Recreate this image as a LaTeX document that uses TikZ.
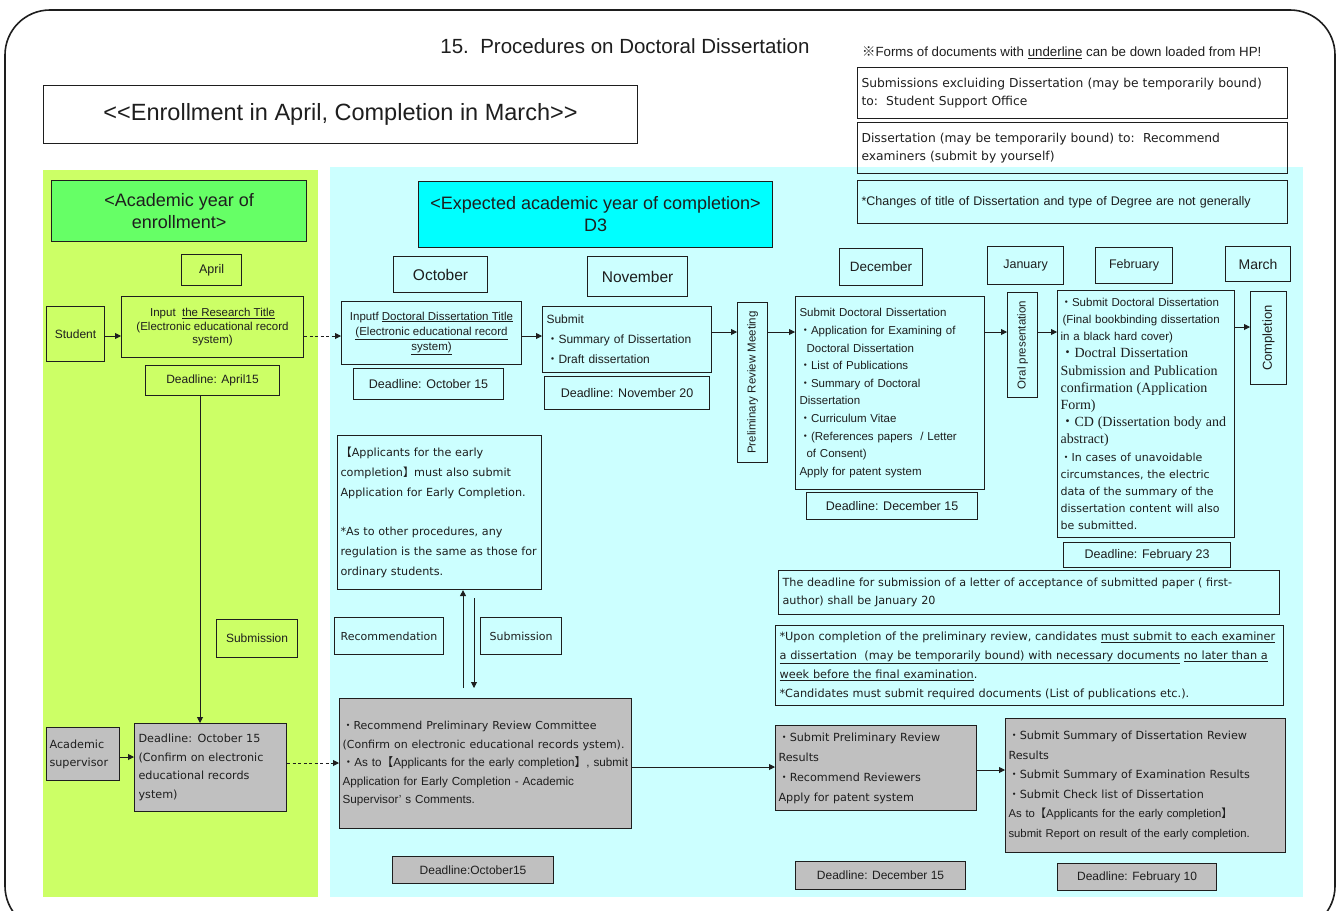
\documentclass[tikz,border=0pt]{standalone}
\usepackage{graphicx}
\usepackage{fontspec}
\setmainfont{Liberation Sans}
\newfontfamily\cjk{Noto Sans CJK JP}
\newfontfamily\wfont{DejaVu Sans}
\newfontfamily\serfont{Liberation Serif}
\usetikzlibrary{arrows.meta}
\newcommand{\fz}[2]{\fontsize{#1}{#2}\selectfont}
\newcommand{\lbk}{{\cjk 【}}
\newcommand{\rbk}{{\cjk 】}}
\newcommand{\dt}{{\cjk ・}}
\definecolor{lgreen}{RGB}{204,255,102}
\definecolor{lcyan}{RGB}{204,255,255}
\definecolor{hgreen}{RGB}{102,255,102}
\definecolor{hcyan}{RGB}{0,255,255}
\definecolor{gfill}{RGB}{192,192,192}
\definecolor{ink}{RGB}{30,30,30}
\begin{document}
\begin{tikzpicture}[x=1pt,y=-1pt,
  box/.style={draw=ink,line width=1.1pt,inner sep=2pt,text=ink},
  gbox/.style={box,fill=gfill},
  sz/.style 2 args={minimum width=#1pt,minimum height=#2pt},
  nw/.style={anchor=north west},
  arr/.style={draw=ink,line width=0.9pt,-{Triangle[length=6pt,width=6pt]}},
  darr/.style={arr,dash pattern=on 3pt off 2.5pt}]
\useasboundingbox (0,0) rectangle (1340,910);
\fill[white] (0,0) rectangle (1340,910);
\begin{scope}
\clip (0,0) rectangle (1340,910);
\draw[ink,line width=1.6pt,rounded corners=45pt] (5,10) rectangle (1335,931);
\end{scope}
% panels
\fill[lgreen] (43,170) rectangle (318,897);
\fill[lcyan] (330,167) rectangle (1303,897);
% title
\node[font=\fz{20.5}{24},text=ink] (title) at (625,46) {15.\ \ Procedures on Doctoral Dissertation};
\node[box,nw,fill=white,sz={594}{58},font=\fz{23.5}{27}] (enroll) at (43,85) {<{}<Enrollment in April, Completion in March>{}>};
% top notes
\node[anchor=west,inner sep=0pt,font=\fz{13.3}{15},text=ink] (hp) at (862,53) {{\cjk ※}Forms of documents with \underline{underline} can be down loaded from HP!};
\node[box,nw,sz={430}{51},text width=422pt,align=left,inner xsep=4pt,font={\wfont\fz{12.3}{18}}] (n1) at (857,67) {Submissions excluiding Dissertation (may be temporarily bound)\\to:\ \ Student Support Office};
\node[box,nw,sz={430}{51},text width=422pt,align=left,inner xsep=4pt,font={\wfont\fz{12.3}{18}}] (n2) at (857,122) {Dissertation (may be temporarily bound) to:\ \ Recommend\\examiners (submit by yourself)};
\node[box,nw,sz={430}{43},text width=422pt,align=left,inner xsep=4pt,font=\fz{12.5}{14}] (n3) at (857,180) {*Changes of title of Dissertation and type of Degree are not generally};
% headers
\node[box,nw,fill=hgreen,sz={255}{61},align=center,font=\fz{18}{22}] (acad) at (51,180) {<Academic year of\\enrollment>};
\node[box,nw,fill=hcyan,sz={354}{66},align=center,font=\fz{18}{22}] (exp) at (418,181) {<Expected academic year of completion>\\D3};
% months
\node[box,nw,sz={60}{31},font=\fz{12.5}{15}] (apr) at (181,254) {April};
\node[box,nw,sz={94}{36},font=\fz{15.5}{18}] (oct) at (393,256) {October};
\node[box,nw,sz={100}{40},font=\fz{15.5}{18}] (nov) at (587,256) {November};
\node[box,nw,sz={83}{37},font=\fz{13.5}{16}] (decm) at (839,248) {December};
\node[box,nw,sz={76}{38},font=\fz{12.5}{15}] (jan) at (987,246) {January};
\node[box,nw,sz={77}{36},font=\fz{12.5}{15}] (feb) at (1095,247) {February};
\node[box,nw,sz={65}{35},font=\fz{14}{16}] (mar) at (1225,246) {March};
% left column
\node[box,nw,sz={58}{55},font=\fz{12}{14}] (stu) at (46,306) {Student};
\node[box,nw,sz={182}{61},align=center,font=\fz{11.5}{13.5}] (inp) at (121,296) {Input\ \ \underline{the Research Title}\\(Electronic educational record\\system)};
\node[box,nw,sz={134}{30},font=\fz{12}{14}] (dla) at (145,365) {Deadline: April15};
\node[box,nw,sz={81}{38},font=\fz{12}{14}] (subl) at (216,619) {Submission};
\node[gbox,nw,sz={73}{53},text width=67pt,align=left,inner xsep=3pt,font={\wfont\fz{11.2}{18}}] (sup) at (46,727) {Academic\\supervisor};
\node[gbox,nw,sz={152}{88},text width=144pt,align=left,inner xsep=4pt,font={\wfont\fz{11.2}{18.5}}] (dlo) at (134,723) {Deadline: October 15\\(Confirm on electronic\\educational records\\ystem)};
% middle
\node[box,nw,sz={180}{63},align=center,font=\fz{11.5}{15}] (inf) at (341,301) {Inputf \underline{Doctoral Dissertation Title}\\\underline{(Electronic educational record}\\\underline{system)}};
\node[box,nw,sz={150}{31},font=\fz{12.5}{15}] (dlo2) at (353,368) {Deadline: October 15};
\node[box,nw,sz={169}{66},text width=161pt,align=left,inner xsep=4pt,font=\fz{12}{20}] (sub) at (542,306) {Submit\\\dt Summary of Dissertation\\\dt Draft dissertation};
\node[box,nw,sz={165}{33},font=\fz{12.5}{15}] (dln) at (544,376) {Deadline: November 20};
\node[box,nw,sz={30}{160},font=\fz{11.5}{14}] (prm) at (737,302) {\rotatebox{90}{Preliminary Review Meeting}};
\node[box,nw,sz={189}{193},text width=181pt,align=left,inner xsep=4pt,font=\fz{11.5}{17.6}] (dec) at (795,296) {Submit Doctoral Dissertation\\
\dt Application for Examining of\\
\hspace*{7pt}Doctoral Dissertation\\
\dt List of Publications\\
\dt Summary of Doctoral\\
Dissertation\\
\dt Curriculum Vitae\\
\dt (References papers\ \ / Letter\\
\hspace*{7pt}of Consent)\\
Apply for patent system};
\node[box,nw,sz={171}{27},font=\fz{12.5}{15}] (dld) at (806,492) {Deadline: December 15};
\node[box,nw,sz={30}{105},font=\fz{11.5}{14}] (oral) at (1007,292) {\rotatebox{90}{Oral presentation}};
\node[box,nw,sz={177}{247},text width=171pt,align=left,inner xsep=3pt,font=\fz{11.5}{17.2}] (fbx) at (1057,290) {\dt Submit Doctoral Dissertation\\
\hspace*{2pt}(Final bookbinding dissertation\\
in a black hard cover)\\
{\serfont\fz{14}{17.2}\dt Doctral Dissertation\\
Submission and Publication\\
confirmation (Application\\
Form)\\
\dt CD (Dissertation body and\\
abstract)}\\
{\wfont\fz{11}{17.2}\dt In cases of unavoidable\\
circumstances, the electric\\
data of the summary of the\\
dissertation content will also\\
be submitted.}};
\node[box,nw,sz={167}{25},font=\fz{12.5}{15}] (dlf) at (1063,542) {Deadline: February 23};
\node[box,nw,sz={36}{93},font=\fz{13}{15}] (comp) at (1250,291) {\rotatebox{90}{Completion}};
% early completion
\node[box,nw,sz={204}{154},text width=198pt,align=left,inner xsep=3pt,font={\wfont\fz{11.2}{19.8}}] (early) at (337,435) {\lbk Applicants for the early\\completion\rbk must also submit\\Application for Early Completion.\\[19.8pt]{}*As to other procedures, any\\regulation is the same as those for\\ordinary students.};
\node[box,nw,sz={109}{37},font={\wfont\fz{11}{13}}] (rec) at (334,617) {Recommendation};
\node[box,nw,sz={81}{37},font={\wfont\fz{11}{13}}] (subm) at (480,617) {Submission};
\node[gbox,nw,sz={292}{130},text width=286pt,align=left,inner xsep=3pt,font=\fz{11.7}{18.5}] (rpc) at (339,698) {{\wfont\fz{11}{18.5}\dt Recommend Preliminary Review Committee\\(Confirm on electronic educational records ystem).}\\\dt As to\lbk Applicants for the early completion\rbk, submit\\Application for Early Completion - Academic\\Supervisor’ s Comments.};
\node[gbox,nw,sz={161}{27},font=\fz{12}{14}] (dlo3) at (392,856) {Deadline:October15};
% right lower
\node[box,nw,sz={501}{44},text width=493pt,align=left,inner xsep=4pt,font={\wfont\fz{11.2}{18}}] (lett) at (778,570) {The deadline for submission of a letter of acceptance of submitted paper ( first-\\author) shall be January 20};
\node[box,nw,sz={508}{80},text width=500pt,align=left,inner xsep=4pt,font={\wfont\fz{11.3}{19}}] (upon) at (775,625) {*Upon completion of the preliminary review, candidates \underline{must submit to each examiner}\\\underline{a dissertation\ \ (may be temporarily bound) with necessary documents} \underline{no later than a}\\\underline{week before the final examination}.\\{}*Candidates must submit required documents (List of publications etc.).};
\node[gbox,nw,sz={201}{85},text width=195pt,align=left,inner xsep=3pt,font={\wfont\fz{11.2}{20}}] (spr) at (775,725) {\dt Submit Preliminary Review\\Results\\\dt Recommend Reviewers\\Apply for patent system};
\node[gbox,nw,sz={280}{134},text width=274pt,align=left,inner xsep=3pt,font=\fz{11.3}{19.5}] (sum) at (1005,718) {{\wfont\fz{11.2}{19.5}\dt Submit Summary of Dissertation Review\\Results\\\dt Submit Summary of Examination Results\\\dt Submit Check list of Dissertation}\\As to\lbk Applicants for the early completion\rbk\\submit Report on result of the early completion.};
\node[gbox,nw,sz={170}{28},font=\fz{12}{14}] (dld2) at (795,861) {Deadline: December 15};
\node[gbox,nw,sz={159}{27},font=\fz{12}{14}] (dlf2) at (1057,863) {Deadline: February 10};
% connectors
\coordinate (ya) at (0,336);
\coordinate (yb) at (0,332);
\coordinate (yc) at (0,327);
\coordinate (yd) at (0,757);
\coordinate (ye) at (0,763);
\coordinate (yf) at (0,767);
\coordinate (yg) at (0,770);
\coordinate (xv) at (200,0);
\coordinate (xu) at (463,0);
\coordinate (xd) at (474,0);
\draw[arr] (stu.east |- ya) -- (inp.west |- ya);
\draw[darr] (inp.east |- ya) -- (inf.west |- ya);
\draw[arr] (inf.east |- ya) -- (sub.west |- ya);
\draw[arr] (sub.east |- yb) -- (prm.west |- yb);
\draw[arr] (prm.east |- yb) -- (dec.west |- yb);
\draw[arr] (dec.east |- yb) -- (oral.west |- yb);
\draw[arr] (oral.east |- yb) -- (fbx.west |- yb);
\draw[arr] (fbx.east |- yc) -- (comp.west |- yc);
\draw[arr] (dla.south -| xv) -- (dlo.north -| xv);
\draw[arr] (sup.east |- yd) -- (dlo.west |- yd);
\draw[darr] (dlo.east |- ye) -- (rpc.west |- ye);
\draw[arr] (rpc.east |- yf) -- (spr.west |- yf);
\draw[arr] (spr.east |- yg) -- (sum.west |- yg);
\coordinate (ua) at ([yshift=10pt]rpc.north);
\coordinate (ub) at ([yshift=-8pt]early.south);
\draw[arr] (ua -| xu) -- (early.south -| xu);
\draw[arr] (ub -| xd) -- (ua -| xd);
\end{tikzpicture}
\end{document}
